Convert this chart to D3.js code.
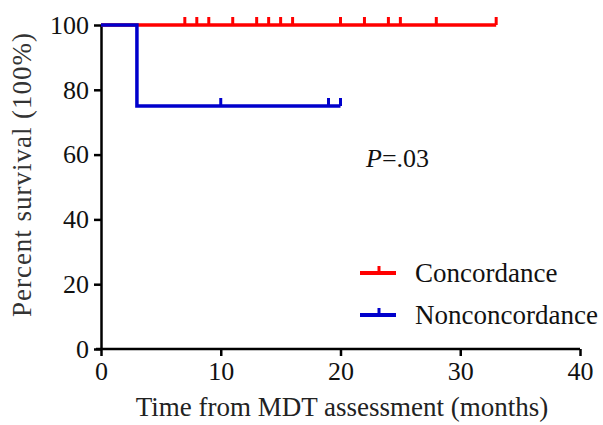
<!DOCTYPE html>
<html lang="en">
<head>
    <meta charset="UTF-8">
    <title>Survival</title>
    <script src="https://cdn.jsdelivr.net/npm/d3@7/dist/d3.min.js"></script>
    <style>
        body { margin: 0; background: #fff; }
        text { font-family: "Liberation Serif", "Times New Roman", serif; }
    </style>
</head>
<body>
<div class="km-container"></div>
<script>
    const width = 603
    const height = 425
    const padding = { top: 25, right: 23, bottom: 76, left: 101 }

    // step points: [month, percent]
    const concordanceSteps = [[0, 100], [33, 100]]
    const concordanceCensor = [7, 8, 9, 11, 13, 14, 15, 16, 20, 22, 24, 25, 28, 33]
    const nonconcordanceSteps = [[0, 100], [3, 100], [3, 75], [20, 75]]
    const nonconcordanceCensor = [10, 19, 20]

    const xTicks = [0, 10, 20, 30, 40]
    const yTicks = [0, 20, 40, 60, 80, 100]

    const groups = [
        { name: 'Concordance', color: '#ff0000', steps: concordanceSteps, censor: concordanceCensor },
        { name: 'Nonconcordance', color: '#0000cc', steps: nonconcordanceSteps, censor: nonconcordanceCensor }
    ]

    const fontSize = '26px'

    const xScale = d3.scaleLinear().domain([0, 40])
        .range([padding.left, width - padding.right])
    const yScale = d3.scaleLinear().domain([0, 100])
        .range([height - padding.bottom, padding.top])

    const svg = d3.select('.km-container')
        .append('svg')
        .attr('width', width)
        .attr('height', height)

    const xAxis = d3.axisBottom(xScale).tickValues(xTicks).tickSize(7).tickSizeOuter(0).tickPadding(6)
    const yAxis = d3.axisLeft(yScale).tickValues(yTicks).tickSize(7).tickSizeOuter(0).tickPadding(5)

    const gx = svg.append('g')
        .attr('transform', `translate(0, ${yScale(0)})`)
        .call(xAxis)
    const gy = svg.append('g')
        .attr('transform', `translate(${xScale(0)}, 0)`)
        .call(yAxis)

    ;[gx, gy].forEach(g => {
        g.select('.domain').attr('stroke', '#000').attr('stroke-width', 2.5)
        g.selectAll('.tick line').attr('stroke', '#000').attr('stroke-width', 2.5)
        g.selectAll('.tick text').attr('font-size', fontSize).attr('fill', '#111')
            .style('font-family', '"Liberation Serif", serif')
    })
    // extend axes slightly past the origin
    gx.select('.domain').attr('d', `M${xScale(0) - 5},0H${xScale(40)}`)

    const line = d3.line().x(d => xScale(d[0])).y(d => yScale(d[1]))

    groups.forEach(g => {
        svg.append('path')
            .attr('d', line(g.steps))
            .attr('fill', 'none')
            .attr('stroke', g.color)
            .attr('stroke-width', 3.5)

        const yAt = t => {
            let v = g.steps[0][1]
            g.steps.forEach(s => { if (s[0] <= t) v = s[1] })
            return v
        }
        svg.selectAll(null)
            .data(g.censor)
            .enter()
            .append('line')
            .attr('x1', d => xScale(d))
            .attr('x2', d => xScale(d))
            .attr('y1', d => yScale(yAt(d)))
            .attr('y2', d => yScale(yAt(d)) - 8)
            .attr('stroke', g.color)
            .attr('stroke-width', 3)
    })

    // legend
    const legend = svg.append('g').attr('transform', 'translate(360, 273)')
    groups.forEach((g, i) => {
        const row = legend.append('g').attr('transform', `translate(0, ${i * 42})`)
        row.append('line').attr('x1', 0).attr('x2', 36).attr('y1', 0).attr('y2', 0)
            .attr('stroke', g.color).attr('stroke-width', 4)
        row.append('line').attr('x1', 19).attr('x2', 19).attr('y1', 0).attr('y2', -7)
            .attr('stroke', g.color).attr('stroke-width', 3)
        row.append('text').attr('x', 55).attr('y', 9)
            .attr('font-size', '27px').attr('fill', '#111')
            .text(g.name)
    })

    svg.append('text')
        .attr('x', 366).attr('y', 167)
        .attr('font-size', fontSize).attr('fill', '#111')
        .html('<tspan font-style="italic">P</tspan>=.03')

    svg.append('text')
        .attr('x', 342)
        .attr('y', 416)
        .attr('text-anchor', 'middle')
        .attr('font-size', '27px').attr('fill', '#222')
        .text('Time from MDT assessment (months)')

    svg.append('text')
        .attr('transform', `translate(31, 175) rotate(-90)`)
        .attr('text-anchor', 'middle')
        .attr('font-size', '27px').attr('fill', '#333')
        .attr('textLength', 284)
        .attr('lengthAdjust', 'spacing')
        .text('Percent survival (100%)')
</script>
</body>
</html>
